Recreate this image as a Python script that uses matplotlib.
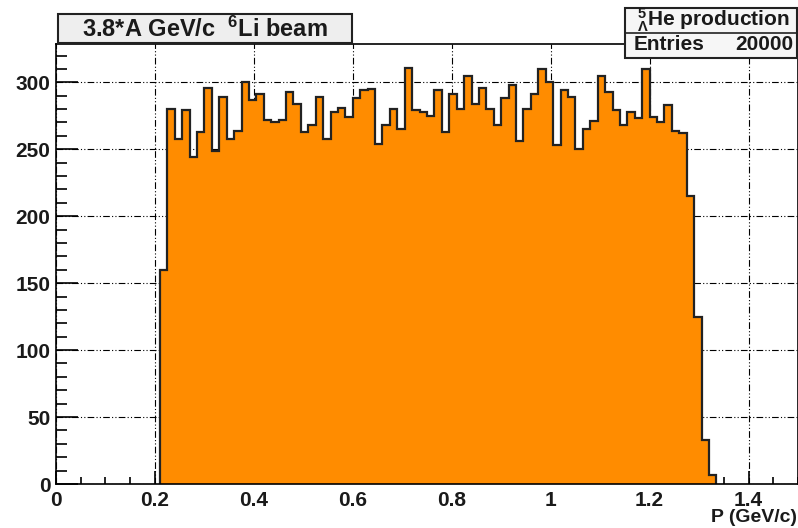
import numpy as np
import matplotlib.pyplot as plt
from matplotlib.patches import Rectangle
from matplotlib.ticker import MultipleLocator

plt.rcParams['font.family'] = ['Liberation Sans', 'DejaVu Sans']
plt.rcParams['mathtext.fontset'] = 'custom'
plt.rcParams['mathtext.rm'] = 'Liberation Sans:bold'
plt.rcParams['mathtext.bf'] = 'Liberation Sans:bold'
plt.rcParams['mathtext.it'] = 'Liberation Sans:bold'

# histogram: 100 bins over 0..1.5, filled from 0.21 on
bin_lo = 0.21
bin_w = 0.015
counts = [160, 280, 258, 279, 244, 263, 296, 249, 289, 258,
          264, 300, 287, 291, 272, 270, 272, 293, 284, 263,
          268, 289, 258, 278, 281, 274, 288, 294, 295, 254,
          268, 280, 265, 311, 279, 278, 275, 294, 263, 291,
          280, 305, 284, 296, 280, 268, 288, 298, 256, 280,
          291, 310, 300, 253, 294, 289, 250, 265, 271, 305,
          293, 279, 268, 278, 273, 310, 274, 270, 283, 264,
          262, 215, 125, 33, 7]
entries = 20000
title = r'3.8*A GeV/c  $^{\mathbf{6}}$Li beam'
hist_name = r'${}^{5}_{\Lambda}$He production'
xlabel = 'P (GeV/c)'

edges = bin_lo + bin_w * np.arange(len(counts) + 1)

W, H = 798, 528
fig = plt.figure(figsize=(W / 100, H / 100), dpi=100)
ax = fig.add_axes([56 / W, 44 / H, 742 / W, 440 / H])

ax.set_axisbelow(True)
ax.grid(True, which='major', color='black', lw=0.8,
        linestyle=(0, (6, 2, 1, 2, 1, 2)))
ax.stairs(counts, edges, fill=True, color='#ff8c00', lw=0)
ax.stairs(counts, edges, baseline=0, fill=False, color='#222222', lw=1.6)

ax.set_xlim(0, 1.5)
ax.set_ylim(0, 328.6)
ax.xaxis.set_major_locator(MultipleLocator(0.2))
ax.xaxis.set_minor_locator(MultipleLocator(0.05))
ax.yaxis.set_major_locator(MultipleLocator(50))
ax.yaxis.set_minor_locator(MultipleLocator(10))
ax.set_xticks(np.arange(0, 1.41, 0.2))
ax.set_xticklabels(['0', '0.2', '0.4', '0.6', '0.8', '1', '1.2', '1.4'])
ax.tick_params(axis='x', which='major', direction='in', length=9.5, width=1.2,
               labelsize=15, pad=5)
ax.tick_params(axis='x', which='minor', direction='in', length=4.8, width=1.2)
ax.tick_params(axis='y', which='major', direction='in', length=16, width=1.2,
               labelsize=15, pad=4)
ax.tick_params(axis='y', which='minor', direction='in', length=8, width=1.2)
for lab in ax.get_xticklabels() + ax.get_yticklabels():
    lab.set_fontweight('bold')
    lab.set_color('#1a1a1a')
for s in ax.spines.values():
    s.set_linewidth(1.2)

fig.text(797 / W, 1 - 517 / H, xlabel, ha='right', va='center',
         fontsize=14, fontweight='bold', color='#1a1a1a')

# title box
fig.add_artist(Rectangle((58 / W, 1 - 43 / H), 294 / W, 29 / H,
                         transform=fig.transFigure, facecolor='#eeeeee',
                         edgecolor='#222222', lw=1.5))
fig.text(205 / W, 1 - 29 / H, title, ha='center', va='center',
         fontsize=17, fontweight='bold', color='#1a1a1a')

# stats box
fig.add_artist(Rectangle((625 / W, 1 - 58 / H), 172 / W, 50 / H,
                         transform=fig.transFigure, facecolor='#f6f6f6',
                         edgecolor='#222222', lw=1.5))
fig.add_artist(plt.Line2D([625 / W, 797 / W], [1 - 33 / H, 1 - 33 / H],
                          transform=fig.transFigure, color='#222222', lw=1.2))
fig.text(713 / W, 1 - 20 / H, hist_name, ha='center', va='center',
         fontsize=15, fontweight='bold', color='#1a1a1a')
fig.text(634 / W, 1 - 45 / H, 'Entries', ha='left', va='center',
         fontsize=15, fontweight='bold', color='#1a1a1a')
fig.text(793 / W, 1 - 45 / H, str(entries), ha='right', va='center',
         fontsize=15, fontweight='bold', color='#1a1a1a')

fig.savefig('out.png', dpi=100)
